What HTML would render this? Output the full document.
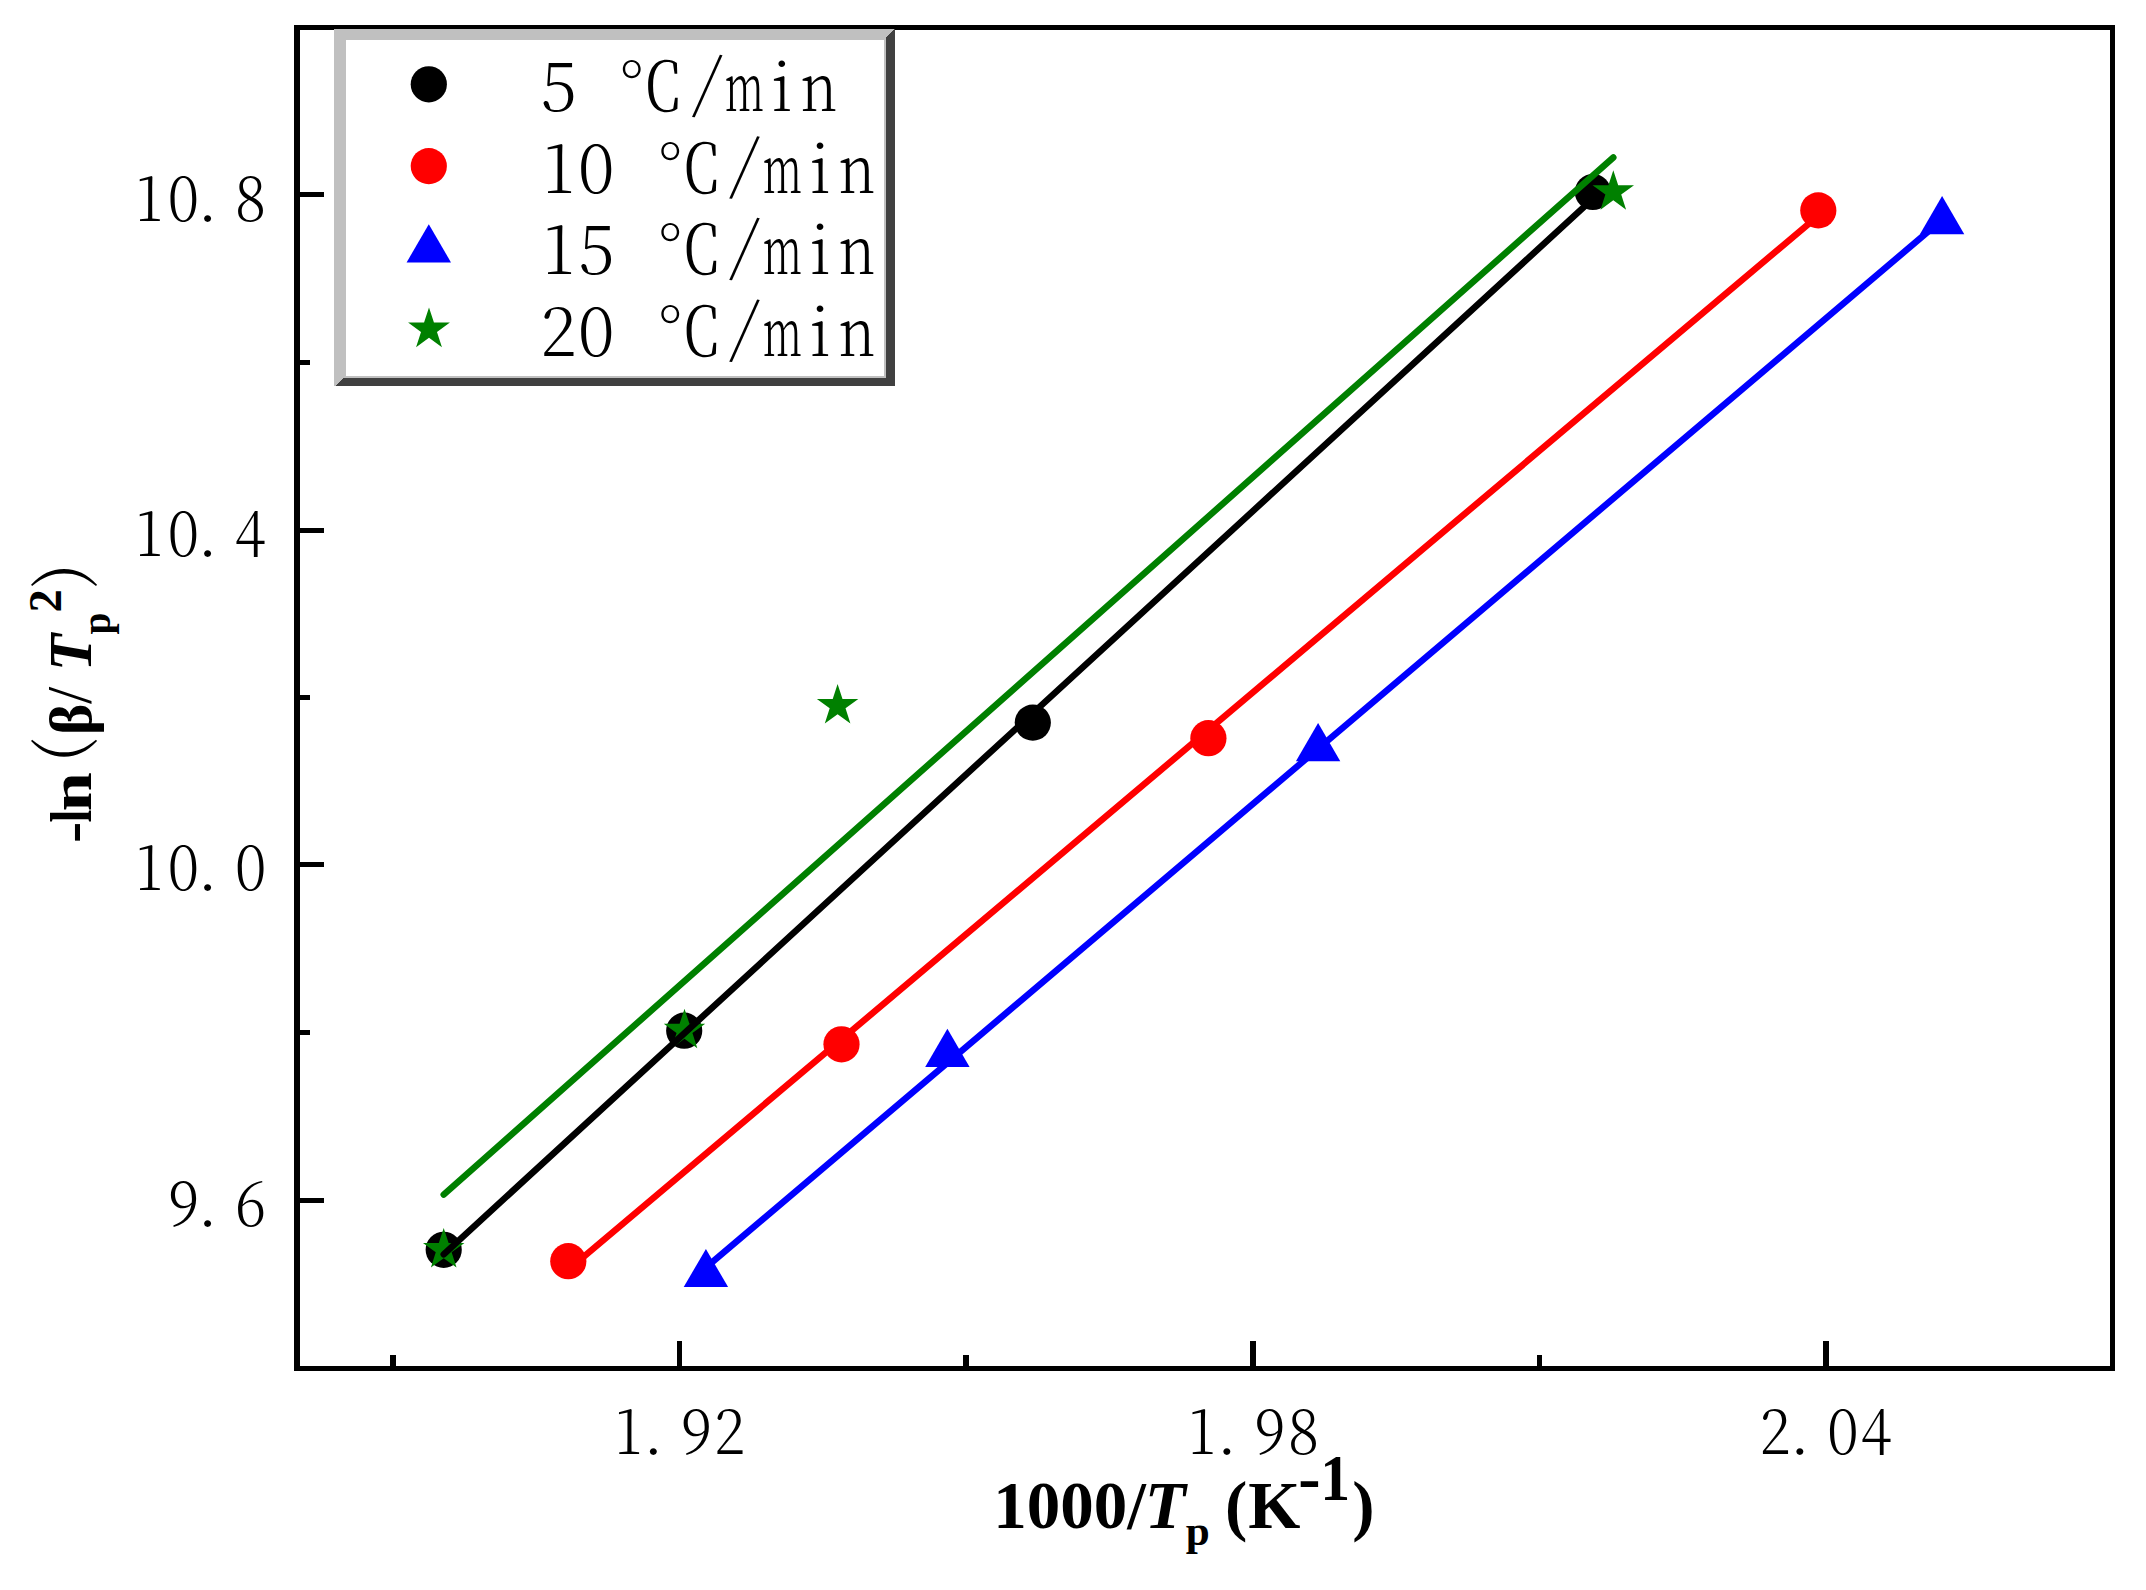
<!DOCTYPE html>
<html lang="zh"><head><meta charset="utf-8">
<style>html,body{margin:0;padding:0;background:#fff}svg{display:block}</style></head>
<body>
<svg width="2146" height="1590" viewBox="0 0 2146 1590">
<rect x="0" y="0" width="2146" height="1590" fill="#fff"/>
<g fill="#000"><circle cx="443.7" cy="1249.8" r="18.1"/><circle cx="684.2" cy="1030.7" r="18.1"/><circle cx="1032.8" cy="722.6" r="18.1"/><circle cx="1592.9" cy="192" r="18.1"/></g>
<g fill="#f00"><circle cx="568.3" cy="1261.2" r="18.1"/><circle cx="841.5" cy="1044.3" r="18.1"/><circle cx="1208.4" cy="738.2" r="18.1"/><circle cx="1818.3" cy="210.4" r="18.1"/></g>
<g fill="#00f"><polygon points="705.9,1248.9 728.1,1287.1 683.7,1287.1"/><polygon points="947.4,1028.8 969.6,1067 925.2,1067"/><polygon points="1318.1,723 1340.3,761.2 1295.9,761.2"/><polygon points="1942.1,196.1 1964.3,234.3 1919.9,234.3"/></g>
<g fill="#008000"><polygon points="443.7,1228 448.59,1243.06 464.43,1243.06 451.62,1252.37 456.51,1267.44 443.7,1258.13 430.89,1267.44 435.78,1252.37 422.97,1243.06 438.81,1243.06"/><polygon points="684.5,1008.7 689.39,1023.76 705.23,1023.76 692.42,1033.07 697.31,1048.14 684.5,1038.83 671.69,1048.14 676.58,1033.07 663.77,1023.76 679.61,1023.76"/><polygon points="837.6,684 842.49,699.06 858.33,699.06 845.52,708.37 850.41,723.44 837.6,714.13 824.79,723.44 829.68,708.37 816.87,699.06 832.71,699.06"/><polygon points="1613.3,170.2 1618.19,185.26 1634.03,185.26 1621.22,194.57 1626.11,209.64 1613.3,200.33 1600.49,209.64 1605.38,194.57 1592.57,185.26 1608.41,185.26"/></g>
<g stroke-width="6.5" stroke-linecap="round" fill="none">
<line x1="443.7" y1="1254.3" x2="1593" y2="198.7" stroke="#000"/>
<line x1="568.3" y1="1269.7" x2="1818.3" y2="215.7" stroke="#f00"/>
<line x1="705.9" y1="1267.6" x2="1942.1" y2="219.8" stroke="#00f"/>
<line x1="443.7" y1="1194.6" x2="1613.3" y2="157.5" stroke="#008000"/>
</g>
<g fill="#000" shape-rendering="crispEdges">
<rect x="294" y="25" width="6" height="1346"/>
<rect x="294" y="25" width="1821" height="5"/>
<rect x="2110" y="25" width="5" height="1346"/>
<rect x="294" y="1366" width="1821" height="5"/>
<rect x="300" y="192" width="24" height="5"/>
<rect x="300" y="528" width="24" height="5"/>
<rect x="300" y="862" width="24" height="5"/>
<rect x="300" y="1198" width="24" height="5"/>
<rect x="300" y="360" width="10" height="5"/>
<rect x="300" y="695" width="10" height="5"/>
<rect x="300" y="1030" width="10" height="5"/>
<rect x="677" y="1341" width="5" height="25"/>
<rect x="1250" y="1341" width="6" height="25"/>
<rect x="1823" y="1341" width="6" height="25"/>
<rect x="390" y="1355" width="6" height="11"/>
<rect x="963" y="1355" width="6" height="11"/>
<rect x="1537" y="1355" width="5" height="11"/>
</g>
<g shape-rendering="crispEdges">
<rect x="334" y="29" width="561" height="356.7" fill="#c0c0c0"/>
<polygon points="895,29 895,385.7 336,385.7 343.5,378.1 886.2,378.1 886.2,37.8" fill="#404040"/>
<rect x="346" y="40" width="540.2" height="338.1" fill="#c0c0c0"/>
<rect x="346" y="40" width="538" height="336.2" fill="#fff"/>
</g>
<circle cx="428.8" cy="84.3" r="18.1" fill="#000"/>
<circle cx="428.8" cy="166.1" r="18.1" fill="#f00"/>
<g fill="#00f"><polygon points="428.8,224.2 451,262.4 406.6,262.4"/></g>
<g fill="#008000"><polygon points="429,307.4 433.94,322.6 449.92,322.6 436.99,332 441.93,347.2 429,337.8 416.07,347.2 421.01,332 408.08,322.6 424.06,322.6"/></g>
<text font-family='"Noto Serif CJK SC","Liberation Serif",serif' font-weight="300" font-size="60.8" fill="#000"><tspan x="135.51" y="220.5" textLength="26.98" lengthAdjust="spacingAndGlyphs">1</tspan><tspan x="167.74" y="220.5" textLength="31.38" lengthAdjust="spacingAndGlyphs">0</tspan><tspan x="197.75" y="220.5">.</tspan><tspan x="234.83" y="220.5" textLength="31.49" lengthAdjust="spacingAndGlyphs">8</tspan></text>
<text font-family='"Noto Serif CJK SC","Liberation Serif",serif' font-weight="300" font-size="60.8" fill="#000"><tspan x="135.51" y="555.5" textLength="26.98" lengthAdjust="spacingAndGlyphs">1</tspan><tspan x="167.74" y="555.5" textLength="31.38" lengthAdjust="spacingAndGlyphs">0</tspan><tspan x="197.75" y="555.5">.</tspan><tspan x="234.6" y="555.5" textLength="31.26" lengthAdjust="spacingAndGlyphs">4</tspan></text>
<text font-family='"Noto Serif CJK SC","Liberation Serif",serif' font-weight="300" font-size="60.8" fill="#000"><tspan x="135.51" y="890" textLength="26.98" lengthAdjust="spacingAndGlyphs">1</tspan><tspan x="167.74" y="890" textLength="31.38" lengthAdjust="spacingAndGlyphs">0</tspan><tspan x="197.75" y="890">.</tspan><tspan x="234.94" y="890" textLength="31.38" lengthAdjust="spacingAndGlyphs">0</tspan></text>
<text font-family='"Noto Serif CJK SC","Liberation Serif",serif' font-weight="300" font-size="60.8" fill="#000"><tspan x="167.63" y="1225.5" textLength="31.66" lengthAdjust="spacingAndGlyphs">9</tspan><tspan x="197.75" y="1225.5">.</tspan><tspan x="234.65" y="1225.5" textLength="31.49" lengthAdjust="spacingAndGlyphs">6</tspan></text>
<text font-family='"Noto Serif CJK SC","Liberation Serif",serif' font-weight="300" font-size="60.8" fill="#000"><tspan x="614.81" y="1454.2" textLength="26.98" lengthAdjust="spacingAndGlyphs">1</tspan><tspan x="643.45" y="1454.2">.</tspan><tspan x="680.53" y="1454.2" textLength="31.66" lengthAdjust="spacingAndGlyphs">9</tspan><tspan x="713.67" y="1454.2" textLength="31.49" lengthAdjust="spacingAndGlyphs">2</tspan></text>
<text font-family='"Noto Serif CJK SC","Liberation Serif",serif' font-weight="300" font-size="60.8" fill="#000"><tspan x="1188.31" y="1454.2" textLength="26.98" lengthAdjust="spacingAndGlyphs">1</tspan><tspan x="1216.95" y="1454.2">.</tspan><tspan x="1254.03" y="1454.2" textLength="31.66" lengthAdjust="spacingAndGlyphs">9</tspan><tspan x="1287.63" y="1454.2" textLength="31.49" lengthAdjust="spacingAndGlyphs">8</tspan></text>
<text font-family='"Noto Serif CJK SC","Liberation Serif",serif' font-weight="300" font-size="60.8" fill="#000"><tspan x="1759.37" y="1454.2" textLength="31.49" lengthAdjust="spacingAndGlyphs">2</tspan><tspan x="1789.95" y="1454.2">.</tspan><tspan x="1827.14" y="1454.2" textLength="31.38" lengthAdjust="spacingAndGlyphs">0</tspan><tspan x="1860.4" y="1454.2" textLength="31.26" lengthAdjust="spacingAndGlyphs">4</tspan></text>
<text font-family='"Noto Serif CJK SC","Liberation Serif",serif' font-weight="300" font-size="66.5" fill="#000"><tspan x="540.61" y="111.1">5</tspan><tspan> </tspan><tspan x="617.68" y="111.1">℃</tspan><tspan font-weight="200" font-size="69.49" rotate="7" x="693.31" y="104.92">/</tspan><tspan x="724.81" y="111.1" textLength="39.22" lengthAdjust="spacingAndGlyphs">m</tspan><tspan font-weight="200"><tspan x="771.36" y="111.1">i</tspan></tspan><tspan x="800.41" y="111.1" textLength="36.8" lengthAdjust="spacingAndGlyphs">n</tspan></text>
<text font-family='"Noto Serif CJK SC","Liberation Serif",serif' font-weight="300" font-size="66.5" fill="#000"><tspan x="542.77" y="192.6">1</tspan><tspan x="577.88" y="192.6">0</tspan><tspan> </tspan><tspan x="656.18" y="192.6">℃</tspan><tspan font-weight="200" font-size="69.49" rotate="7" x="730.51" y="186.42">/</tspan><tspan x="762.81" y="192.6" textLength="39.22" lengthAdjust="spacingAndGlyphs">m</tspan><tspan font-weight="200"><tspan x="809.46" y="192.6">i</tspan></tspan><tspan x="838.41" y="192.6" textLength="36.8" lengthAdjust="spacingAndGlyphs">n</tspan></text>
<text font-family='"Noto Serif CJK SC","Liberation Serif",serif' font-weight="300" font-size="66.5" fill="#000"><tspan x="542.77" y="274.2">1</tspan><tspan x="578.21" y="274.2">5</tspan><tspan> </tspan><tspan x="656.18" y="274.2">℃</tspan><tspan font-weight="200" font-size="69.49" rotate="7" x="730.51" y="268.02">/</tspan><tspan x="762.81" y="274.2" textLength="39.22" lengthAdjust="spacingAndGlyphs">m</tspan><tspan font-weight="200"><tspan x="809.46" y="274.2">i</tspan></tspan><tspan x="838.41" y="274.2" textLength="36.8" lengthAdjust="spacingAndGlyphs">n</tspan></text>
<text font-family='"Noto Serif CJK SC","Liberation Serif",serif' font-weight="300" font-size="66.5" fill="#000"><tspan x="539.91" y="355.9">2</tspan><tspan x="577.88" y="355.9">0</tspan><tspan> </tspan><tspan x="656.18" y="355.9">℃</tspan><tspan font-weight="200" font-size="69.49" rotate="7" x="730.51" y="349.72">/</tspan><tspan x="762.81" y="355.9" textLength="39.22" lengthAdjust="spacingAndGlyphs">m</tspan><tspan font-weight="200"><tspan x="809.46" y="355.9">i</tspan></tspan><tspan x="838.41" y="355.9" textLength="36.8" lengthAdjust="spacingAndGlyphs">n</tspan></text>
<text font-family='"Liberation Serif","Noto Serif CJK SC",serif' font-weight="bold" font-size="67" fill="#000"><tspan x="993.2" y="1528.3">1000/</tspan><tspan font-style="italic"><tspan x="1144.83" y="1528.3">T</tspan></tspan><tspan font-size="40.5"><tspan x="1185.75" y="1545.4" textLength="24" lengthAdjust="spacingAndGlyphs">p</tspan></tspan><tspan> </tspan><tspan x="1225.06" y="1528.3">(</tspan><tspan x="1248.25" y="1528.3">K</tspan><tspan x="1298.35" y="1499.7">-</tspan><tspan x="1320.21" y="1499.7" textLength="29.88" lengthAdjust="spacingAndGlyphs" font-size="65.66">1</tspan><tspan x="1352.24" y="1528.3">)</tspan></text>
<text transform="rotate(-90)" font-family='"Liberation Serif","Noto Serif CJK SC",serif' font-weight="bold" font-size="59.5" fill="#000"><tspan x="-843.14" y="90.6" textLength="21.28" lengthAdjust="spacingAndGlyphs">-</tspan><tspan x="-822.51" y="90.6" textLength="12.9" lengthAdjust="spacingAndGlyphs">l</tspan><tspan x="-811.6" y="90.6" textLength="39.26" lengthAdjust="spacingAndGlyphs">n</tspan><tspan font-family='"Noto Serif CJK SC","Liberation Serif",serif' font-weight="300" font-size="63.6"><tspan x="-763.54" y="83.1" textLength="25.79" lengthAdjust="spacingAndGlyphs">(</tspan></tspan><tspan x="-735.07" y="90.6">β</tspan><tspan font-weight="normal"><tspan x="-704" y="90.6" font-size="62.5">/</tspan></tspan><tspan> </tspan><tspan font-style="italic"><tspan x="-671.14" y="90.6" font-size="61">T</tspan></tspan><tspan font-size="39.5"><tspan x="-634.6" y="109.8">p</tspan></tspan><tspan font-size="46.5"><tspan x="-612.55" y="61.2">2</tspan></tspan><tspan font-family='"Noto Serif CJK SC","Liberation Serif",serif' font-weight="300" font-size="63.6"><tspan x="-588.03" y="83.1" textLength="25.79" lengthAdjust="spacingAndGlyphs">)</tspan></tspan></text>
</svg>
</body></html>
